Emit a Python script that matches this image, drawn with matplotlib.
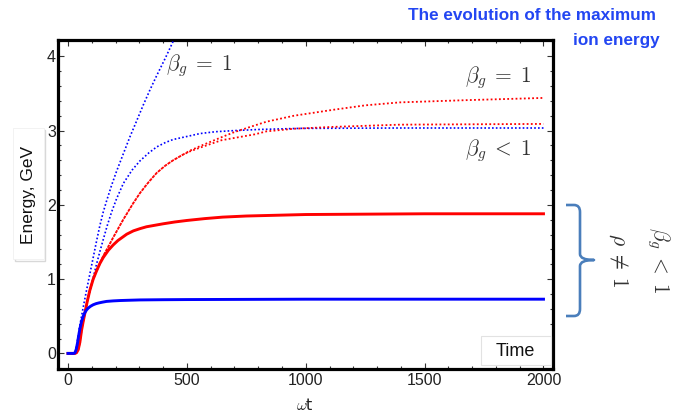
import matplotlib
matplotlib.use("Agg")
import matplotlib.pyplot as plt
from matplotlib.path import Path
from matplotlib.patches import PathPatch, Rectangle
from matplotlib.ticker import MultipleLocator

plt.rcParams['mathtext.fontset'] = 'cm'
plt.rcParams['font.family'] = ['Liberation Sans', 'DejaVu Sans']

# ---------------- data ----------------
blue_solid_x = [0, 25, 30, 35, 40, 45, 50, 57, 64, 71, 78, 85, 95, 106, 118, 130, 145, 162, 190, 220, 260, 303, 400, 500, 1000, 2000]
blue_solid_y = [0, 0, 0.01, 0.06, 0.14, 0.24, 0.33, 0.43, 0.50, 0.55, 0.585, 0.61, 0.635, 0.655, 0.67, 0.68, 0.69, 0.70, 0.707, 0.712, 0.716, 0.72, 0.723, 0.725, 0.73, 0.73]

red_solid_x = [0, 30, 36, 43, 50, 57, 64, 71, 81, 92, 106, 120, 134, 148, 170, 190, 210, 247, 275, 303, 330, 365, 400, 450, 500, 575, 650, 750, 1000, 1500, 2000]
red_solid_y = [0, 0, 0.01, 0.05, 0.15, 0.31, 0.43, 0.54, 0.70, 0.85, 1.0, 1.11, 1.21, 1.29, 1.39, 1.46, 1.52, 1.605, 1.65, 1.68, 1.705, 1.725, 1.745, 1.77, 1.79, 1.815, 1.835, 1.85, 1.87, 1.88, 1.88]

blue_dot1_x = [0, 25, 32, 43, 50, 64, 78, 92, 106, 120, 134, 148, 162, 183, 204, 233, 261, 290, 316, 345, 373, 410, 442, 480]
blue_dot1_y = [0, 0, 0.03, 0.22, 0.38, 0.62, 0.85, 1.07, 1.29, 1.51, 1.72, 1.9, 2.05, 2.26, 2.45, 2.69, 2.92, 3.14, 3.34, 3.55, 3.74, 3.98, 4.2, 4.45]

blue_dot2_x = [0, 25, 32, 43, 50, 64, 78, 92, 106, 120, 134, 148, 165, 183, 204, 233, 270, 302, 340, 373, 410, 442, 513, 555, 620, 700, 800, 975, 1400, 2000]
blue_dot2_y = [0, 0, 0.03, 0.22, 0.36, 0.5, 0.66, 0.84, 1.02, 1.2, 1.37, 1.53, 1.72, 1.9, 2.08, 2.29, 2.47, 2.59, 2.7, 2.78, 2.84, 2.88, 2.93, 2.96, 2.985, 3.0, 3.015, 3.03, 3.035, 3.035]

red_dot1_x = [0, 30, 36, 43, 50, 57, 64, 71, 81, 92, 106, 120, 134, 148, 170, 190, 211, 232, 253, 274, 303, 340, 373, 410, 442, 480, 513, 555, 600, 645, 700, 786, 835, 950, 1115, 1250, 1395, 1675, 2000]
red_dot1_y = [0, 0, 0.01, 0.05, 0.15, 0.31, 0.43, 0.54, 0.70, 0.85, 1.0, 1.11, 1.21, 1.31, 1.44, 1.56, 1.68, 1.8, 1.91, 2.02, 2.16, 2.31, 2.43, 2.53, 2.6, 2.67, 2.73, 2.79, 2.85, 2.91, 2.98, 3.07, 3.12, 3.2, 3.28, 3.34, 3.38, 3.41, 3.44]

red_dot2_x = [0, 30, 36, 43, 50, 57, 64, 71, 81, 92, 106, 120, 134, 148, 170, 190, 211, 232, 253, 274, 303, 340, 373, 410, 442, 480, 513, 555, 645, 786, 835, 950, 1115, 1395, 2000]
red_dot2_y = [0, 0, 0.01, 0.05, 0.15, 0.31, 0.43, 0.54, 0.70, 0.85, 1.0, 1.11, 1.21, 1.31, 1.44, 1.56, 1.68, 1.8, 1.91, 2.02, 2.16, 2.31, 2.43, 2.53, 2.6, 2.67, 2.72, 2.77, 2.87, 2.95, 2.99, 3.025, 3.05, 3.08, 3.09]

x_ticks = [0, 500, 1000, 1500, 2000]
y_ticks = [0, 1, 2, 3, 4]

# ---------------- figure ----------------
W, H = 693, 420
fig = plt.figure(figsize=(W / 100, H / 100), dpi=100)
ax = fig.add_axes([58 / W, 51 / H, 495 / W, 329 / H])

dot = (0, (1, 1.3))
ax.plot(blue_dot1_x, blue_dot1_y, color='#0000ff', lw=1.2, ls=dot, zorder=3)
ax.plot(blue_dot2_x, blue_dot2_y, color='#0000ff', lw=1.2, ls=dot, zorder=3)
ax.plot(red_dot1_x, red_dot1_y, color='#ff0000', lw=1.3, ls=dot, zorder=3)
ax.plot(red_dot2_x, red_dot2_y, color='#ff0000', lw=1.3, ls=(0.8, (1, 1.3)), zorder=3)
ax.plot(red_solid_x, red_solid_y, color='#ff0000', lw=2.1, zorder=4)
ax.plot(blue_solid_x, blue_solid_y, color='#0000ff', lw=2.1, zorder=5)

ax.set_xlim(-42, 2040)
ax.set_ylim(-0.21, 4.22)
ax.set_xticks(x_ticks)
ax.set_yticks(y_ticks)
ax.xaxis.set_minor_locator(MultipleLocator(100))
ax.yaxis.set_minor_locator(MultipleLocator(0.2))
ax.tick_params(which='both', direction='in', top=True, right=True, color='#333333', width=0.8)
ax.tick_params(which='major', length=4.5, labelsize=11.5, labelcolor='#222222')
ax.tick_params(which='minor', length=2.5)
ax.tick_params(axis='x', pad=3)
ax.tick_params(axis='y', pad=1.5)
for s in ax.spines.values():
    s.set_linewidth(2.3)
    s.set_color('black')

# ---------------- overlay (pixel coordinates) ----------------
ov = fig.add_axes([0, 0, 1, 1], facecolor='none')
ov.set_xlim(0, W)
ov.set_ylim(H, 0)
ov.axis('off')

# title
tcol = '#2346f2'
ov.text(656, 16, 'The evolution of the maximum', color=tcol, fontsize=12.3,
        fontweight='bold', ha='right', va='center', family='Liberation Sans')
ov.text(660, 41, 'ion energy', color=tcol, fontsize=12.3,
        fontweight='bold', ha='right', va='center', family='Liberation Sans')

# y-label box
ov.add_patch(Rectangle((15, 130), 30, 131, fc='white', ec='#d8d8d8', lw=1.0, zorder=1))
ov.add_patch(Rectangle((13, 128), 31, 131, fc='white', ec='#f0f0f0', lw=0.6, zorder=2))
ov.text(29, 195, 'Energy, GeV', rotation=90, fontsize=12.5, ha='center', va='center',
        color='#111111', zorder=3)

# Time box
ov.add_patch(Rectangle((481, 336), 70, 29, fc='white', ec='#e2e2e2', lw=0.8, zorder=6))
ov.text(515, 351, 'Time', fontsize=13, ha='center', va='center', color='#111111', zorder=7)

# x label
ov.text(305, 405, r'$\omega$t', fontsize=11.5, ha='center', va='center', color='#222222',
        family=['DejaVu Sans'])

# annotations
acol = '#333333'
ov.text(166, 70, r'$\beta_g \;=\; 1$', fontsize=15.5, color=acol, ha='left', va='baseline')
ov.text(465, 82, r'$\beta_g \;=\; 1$', fontsize=15.5, color=acol, ha='left', va='baseline')
ov.text(465, 155, r'$\beta_g \;<\; 1$', fontsize=15.5, color=acol, ha='left', va='baseline')
ov.text(618, 260, r'$\rho \;\neq\; 1$', fontsize=15.5, color=acol, rotation=-90,
        ha='center', va='center')
ov.text(658, 260, r'$\beta_g \;<\; 1$', fontsize=15.5, color=acol, rotation=-90,
        ha='center', va='center')

# bracket
verts = [(566, 205), (574, 205), (580, 205), (580, 212), (580, 254), (580, 260), (594, 260),
         (580, 260), (580, 266), (580, 309), (580, 316), (574, 316), (566, 316)]
codes = [Path.MOVETO, Path.LINETO, Path.CURVE3, Path.CURVE3, Path.LINETO, Path.CURVE3, Path.CURVE3,
         Path.CURVE3, Path.CURVE3, Path.LINETO, Path.CURVE3, Path.CURVE3, Path.LINETO]
ov.add_patch(PathPatch(Path(verts, codes), fc='none', ec='#4a7ebb', lw=1.9,
                       capstyle='butt', joinstyle='round'))

fig.savefig('out.png', dpi=100)
